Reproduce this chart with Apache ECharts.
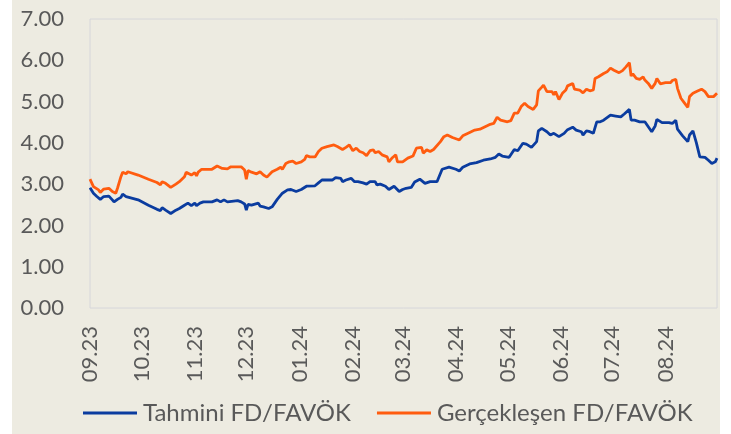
<!DOCTYPE html>
<html>
<head>
<meta charset="utf-8">
<script src="https://cdn.jsdelivr.net/npm/echarts@6/dist/echarts.min.js"></script>
<style>
    html, body { margin: 0; padding: 0; background: #ffffff; }
    #fd_chart { position: absolute; left: 12px; top: 0; width: 708px; height: 434px; background: #EDEBE1; }
</style>
</head>
<body>
<div id="fd_chart"></div>
<script>
// Series names
var seriesNames = ['Tahmini FD/FAVÖK', 'Gerçekleşen FD/FAVÖK'];

// Axis range (calendar days)
var startDate = '2023-09-01';
var endDate = '2024-08-31';

// Y axis ticks
var yTicks = [0, 7, 1];

// Tahmini FD/FAVÖK
var tahminiDates = [
    '2023-09-01','2023-09-03','2023-09-05','2023-09-07','2023-09-09','2023-09-10','2023-09-12','2023-09-14','2023-09-15','2023-09-17',
    '2023-09-19','2023-09-20','2023-09-22','2023-09-23','2023-09-29','2023-10-05','2023-10-10','2023-10-12','2023-10-13','2023-10-15',
    '2023-10-16','2023-10-18','2023-10-21','2023-10-23','2023-10-26','2023-10-28','2023-10-30','2023-11-01','2023-11-02','2023-11-04',
    '2023-11-06','2023-11-11','2023-11-14','2023-11-15','2023-11-16','2023-11-18','2023-11-20','2023-11-26','2023-11-28','2023-11-30',
    '2023-12-01','2023-12-02','2023-12-04','2023-12-08','2023-12-09','2023-12-11','2023-12-14','2023-12-16','2023-12-19','2023-12-22',
    '2023-12-25','2023-12-27','2023-12-30','2024-01-02','2024-01-05','2024-01-10','2024-01-12','2024-01-14','2024-01-20','2024-01-22',
    '2024-01-25','2024-01-26','2024-01-28','2024-01-29','2024-01-31','2024-02-02','2024-02-04','2024-02-07','2024-02-09','2024-02-11',
    '2024-02-14','2024-02-15','2024-02-17','2024-02-20','2024-02-22','2024-02-25','2024-02-28','2024-03-01','2024-03-03','2024-03-06',
    '2024-03-08','2024-03-11','2024-03-14','2024-03-17','2024-03-21','2024-03-24','2024-03-28','2024-04-01','2024-04-03','2024-04-05',
    '2024-04-09','2024-04-13','2024-04-17','2024-04-21','2024-04-24','2024-04-26','2024-04-28','2024-05-02','2024-05-03','2024-05-05',
    '2024-05-07','2024-05-08','2024-05-10','2024-05-12','2024-05-15','2024-05-18','2024-05-19','2024-05-21','2024-05-22','2024-05-24',
    '2024-05-26','2024-05-28','2024-05-31','2024-06-03','2024-06-05','2024-06-08','2024-06-10','2024-06-13','2024-06-14','2024-06-16',
    '2024-06-18','2024-06-20','2024-06-22','2024-06-24','2024-06-26','2024-06-30','2024-07-03','2024-07-06','2024-07-08','2024-07-11',
    '2024-07-12','2024-07-14','2024-07-17','2024-07-20','2024-07-24','2024-07-26','2024-07-27','2024-07-30','2024-08-03','2024-08-04',
    '2024-08-05','2024-08-07','2024-08-08','2024-08-11','2024-08-14','2024-08-15','2024-08-17','2024-08-19','2024-08-21','2024-08-24',
    '2024-08-26','2024-08-28','2024-08-30','2024-08-31'
];
var tahminiValues = [
    2.91, 2.78, 2.70, 2.63, 2.70, 2.68, 2.71, 2.62, 2.57, 2.63,
    2.68, 2.76, 2.70, 2.71, 2.62, 2.49, 2.39, 2.36, 2.43, 2.37,
    2.41, 2.29, 2.37, 2.41, 2.49, 2.54, 2.48, 2.54, 2.48, 2.54,
    2.57, 2.57, 2.62, 2.60, 2.57, 2.62, 2.57, 2.60, 2.57, 2.52,
    2.37, 2.51, 2.49, 2.54, 2.47, 2.45, 2.41, 2.45, 2.63, 2.78,
    2.86, 2.87, 2.82, 2.87, 2.95, 2.96, 3.03, 3.10, 3.10, 3.16,
    3.14, 3.06, 3.10, 3.06, 3.14, 3.06, 3.06, 3.03, 3.00, 3.06,
    3.06, 2.98, 3.00, 2.95, 2.87, 2.95, 2.82, 2.87, 2.90, 2.92,
    3.05, 3.12, 3.02, 3.06, 3.06, 3.36, 3.41, 3.36, 3.32, 3.41,
    3.49, 3.52, 3.58, 3.61, 3.65, 3.73, 3.68, 3.65, 3.66, 3.84,
    3.81, 3.87, 3.99, 3.97, 3.89, 4.03, 4.29, 4.35, 4.39, 4.27,
    4.19, 4.23, 4.15, 4.23, 4.32, 4.38, 4.31, 4.27, 4.19, 4.29,
    4.27, 4.23, 4.51, 4.51, 4.55, 4.67, 4.65, 4.63, 4.70, 4.81,
    4.55, 4.55, 4.51, 4.51, 4.27, 4.41, 4.57, 4.49, 4.49, 4.51,
    4.47, 4.55, 4.33, 4.17, 4.03, 4.19, 4.29, 4.00, 3.66, 3.65,
    3.58, 3.50, 3.54, 3.63
];

// Gerçekleşen FD/FAVÖK
var gerceklesenDates = [
    '2023-09-01','2023-09-03','2023-09-06','2023-09-07','2023-09-09','2023-09-10','2023-09-12','2023-09-14','2023-09-16','2023-09-17',
    '2023-09-19','2023-09-20','2023-09-22','2023-09-23','2023-09-29','2023-10-05','2023-10-10','2023-10-12','2023-10-13','2023-10-15',
    '2023-10-16','2023-10-18','2023-10-21','2023-10-23','2023-10-26','2023-10-27','2023-10-30','2023-11-01','2023-11-02','2023-11-03',
    '2023-11-05','2023-11-11','2023-11-14','2023-11-15','2023-11-17','2023-11-18','2023-11-20','2023-11-22','2023-11-28','2023-11-30',
    '2023-12-01','2023-12-02','2023-12-04','2023-12-05','2023-12-07','2023-12-09','2023-12-11','2023-12-13','2023-12-14','2023-12-16',
    '2023-12-19','2023-12-21','2023-12-22','2023-12-24','2023-12-26','2023-12-28','2023-12-30','2024-01-02','2024-01-04','2024-01-05',
    '2024-01-07','2024-01-10','2024-01-12','2024-01-14','2024-01-17','2024-01-18','2024-01-21','2024-01-23','2024-01-26','2024-01-28',
    '2024-01-30','2024-02-01','2024-02-03','2024-02-05','2024-02-07','2024-02-09','2024-02-11','2024-02-13','2024-02-14','2024-02-16',
    '2024-02-18','2024-02-21','2024-02-22','2024-02-24','2024-02-26','2024-02-27','2024-03-01','2024-03-04','2024-03-05','2024-03-07',
    '2024-03-09','2024-03-12','2024-03-13','2024-03-15','2024-03-17','2024-03-19','2024-03-20','2024-03-23','2024-03-25','2024-03-27',
    '2024-03-30','2024-04-03','2024-04-05','2024-04-09','2024-04-12','2024-04-15','2024-04-18','2024-04-21','2024-04-23','2024-04-25',
    '2024-04-27','2024-05-01','2024-05-03','2024-05-05','2024-05-07','2024-05-09','2024-05-11','2024-05-13','2024-05-16','2024-05-18',
    '2024-05-19','2024-05-21','2024-05-22','2024-05-24','2024-05-25','2024-05-27','2024-05-28','2024-05-29','2024-05-31','2024-06-02',
    '2024-06-04','2024-06-05','2024-06-08','2024-06-09','2024-06-12','2024-06-14','2024-06-16','2024-06-18','2024-06-20','2024-06-21',
    '2024-06-23','2024-06-24','2024-06-26','2024-06-28','2024-06-30','2024-07-02','2024-07-05','2024-07-07','2024-07-09','2024-07-11',
    '2024-07-12','2024-07-13','2024-07-15','2024-07-17','2024-07-19','2024-07-20','2024-07-22','2024-07-24','2024-07-26','2024-07-27',
    '2024-07-29','2024-08-01','2024-08-04','2024-08-05','2024-08-07','2024-08-08','2024-08-10','2024-08-12','2024-08-14','2024-08-15',
    '2024-08-17','2024-08-20','2024-08-22','2024-08-24','2024-08-25','2024-08-26','2024-08-29','2024-08-31'
];
var gerceklesenValues = [
    3.12, 2.94, 2.86, 2.80, 2.88, 2.86, 2.90, 2.82, 2.78, 2.90,
    3.18, 3.29, 3.25, 3.30, 3.22, 3.12, 3.04, 2.98, 3.06, 3.02,
    3.03, 2.92, 3.00, 3.06, 3.18, 3.29, 3.22, 3.28, 3.20, 3.29,
    3.36, 3.36, 3.44, 3.46, 3.38, 3.42, 3.37, 3.42, 3.42, 3.34,
    3.12, 3.33, 3.29, 3.30, 3.25, 3.30, 3.22, 3.17, 3.20, 3.30,
    3.36, 3.41, 3.36, 3.50, 3.54, 3.56, 3.50, 3.54, 3.60, 3.69,
    3.66, 3.66, 3.79, 3.87, 3.91, 3.87, 3.95, 3.91, 3.84, 3.89,
    3.95, 3.81, 3.87, 3.79, 3.76, 3.69, 3.81, 3.83, 3.76, 3.79,
    3.71, 3.66, 3.54, 3.64, 3.71, 3.54, 3.54, 3.63, 3.66, 3.68,
    3.87, 3.89, 3.75, 3.83, 3.79, 3.84, 3.81, 4.03, 4.15, 4.19,
    4.13, 4.07, 4.17, 4.25, 4.31, 4.33, 4.39, 4.45, 4.47, 4.62,
    4.55, 4.51, 4.54, 4.72, 4.72, 4.88, 4.96, 4.88, 4.81, 4.92,
    5.26, 5.35, 5.40, 5.24, 5.20, 5.24, 5.16, 5.24, 5.05, 5.20,
    5.28, 5.38, 5.44, 5.30, 5.28, 5.21, 5.30, 5.26, 5.28, 5.56,
    5.60, 5.64, 5.68, 5.72, 5.81, 5.76, 5.70, 5.75, 5.84, 5.94,
    5.62, 5.67, 5.56, 5.54, 5.60, 5.52, 5.44, 5.32, 5.44, 5.56,
    5.43, 5.46, 5.46, 5.51, 5.54, 5.32, 5.08, 4.97, 4.86, 5.12,
    5.20, 5.26, 5.30, 5.24, 5.28, 5.12, 5.12, 5.20
];

// Build calendar day categories
var days = [];
var d = new Date(startDate + 'T00:00:00Z');
var last = new Date(endDate + 'T00:00:00Z');
while (d <= last) {
    days.push(d.toISOString().slice(0, 10));
    d.setUTCDate(d.getUTCDate() + 1);
}

var toPairs = function (dates, values) {
    return dates.map(function (dt, i) {
        return [days.indexOf(dt), values[i]];
    });
};

var labelFont = 'Lato, "Open Sans", sans-serif';

var fd_chart = echarts.init(document.getElementById('fd_chart'));

fd_chart.setOption({
    animation: false,
    color: ['#0B3C9F', '#FF5C0F'],
    textStyle: {
        fontFamily: labelFont
    },
    grid: {
        left: 78,
        right: 3,
        top: 19,
        bottom: 126,
        show: true,
        borderColor: '#D6D6DA',
        borderWidth: 1,
        backgroundColor: 'transparent'
    },
    legend: {
        data: seriesNames,
        left: 71,
        top: 401,
        padding: 0,
        icon: 'rect',
        itemWidth: 54,
        itemHeight: 3,
        itemGap: 26,
        textStyle: {
            fontSize: 24,
            color: '#595959',
            fontFamily: labelFont,
            padding: [0, 0, 0, 1]
        }
    },
    xAxis: {
        type: 'category',
        data: days,
        boundaryGap: false,
        axisLine: { show: false },
        axisTick: { show: false },
        axisLabel: {
            rotate: 90,
            margin: 18,
            fontSize: 22,
            color: '#595959',
            fontFamily: labelFont,
            interval: function (index, value) {
                return value.slice(8) === '01';
            },
            formatter: function (value) {
                return value.slice(5, 7) + '.' + value.slice(2, 4);
            }
        },
        splitLine: { show: false }
    },
    yAxis: {
        type: 'value',
        min: yTicks[0],
        max: yTicks[1],
        interval: yTicks[2],
        axisLine: { show: false },
        axisTick: { show: false },
        splitLine: { show: false },
        axisLabel: {
            margin: 26,
            fontSize: 22,
            color: '#595959',
            fontFamily: labelFont,
            formatter: function (v) { return v.toFixed(2); }
        }
    },
    series: [
        {
            name: seriesNames[0],
            type: 'line',
            showSymbol: false,
            lineStyle: { width: 2.8 },
            data: toPairs(tahminiDates, tahminiValues)
        },
        {
            name: seriesNames[1],
            type: 'line',
            showSymbol: false,
            lineStyle: { width: 2.8 },
            data: toPairs(gerceklesenDates, gerceklesenValues)
        }
    ]
});
</script>
</body>
</html>
